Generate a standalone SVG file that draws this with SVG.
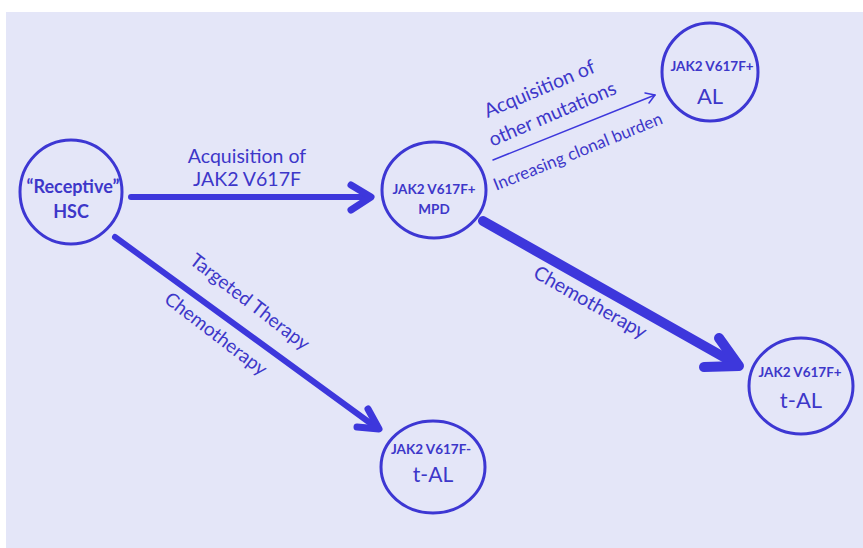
<svg xmlns="http://www.w3.org/2000/svg" width="863" height="548" viewBox="0 0 863 548">
<style>
.node{fill:none;stroke:#3d37d3;stroke-width:3}
.lbl{fill:#3d37c9;font-family:Lato,"Liberation Sans",sans-serif}
.b{font-weight:bold}
.ln{stroke:#3d37dc;fill:none;stroke-linecap:round;stroke-linejoin:round}
</style>
<rect x="0" y="0" width="863" height="548" fill="#ffffff"/>
<rect x="6" y="12" width="857" height="536" fill="#e4e6f8"/>
<g id="connectors">
  <g id="e1">
    <line class="ln" x1="131" y1="197" x2="370" y2="197" stroke-width="6" stroke-linecap="butt"/>
    <polyline class="ln" points="351,185 371,197 351,210" stroke-width="7"/>
    <text class="lbl" x="247" y="163" font-size="19.5" text-anchor="middle">Acquisition of</text>
    <text class="lbl" x="247" y="186" font-size="19.5" text-anchor="middle">JAK2 V617F</text>
  </g>
  <g id="e2">
    <line class="ln" x1="115" y1="237" x2="377" y2="428" stroke-width="6" stroke-linecap="butt"/>
    <polyline class="ln" points="368,409 379,429 357,427" stroke-width="7"/>
    <text class="lbl" font-size="19" text-anchor="middle" transform="translate(246,307) rotate(37.5)">Targeted Therapy</text>
    <text class="lbl" font-size="19" text-anchor="middle" transform="translate(212,339) rotate(37.5)">Chemotherapy</text>
  </g>
  <g id="e3">
    <line class="ln" x1="483" y1="221" x2="736" y2="364" stroke-width="10" stroke-linecap="butt"/>
    <polyline class="ln" points="719,338 739,366 704,367" stroke-width="10"/>
    <text class="lbl" font-size="19.5" text-anchor="middle" transform="translate(587,308) rotate(29.5)">Chemotherapy</text>
  </g>
  <g id="e4">
    <line class="ln" x1="493" y1="160" x2="655" y2="95" stroke-width="1.5"/>
    <polyline class="ln" points="645,93 655,95 649,103" stroke-width="1.5"/>
    <text class="lbl" font-size="19.5" text-anchor="middle" transform="translate(542,95) rotate(-23)">Acquisition of</text>
    <text class="lbl" font-size="19.5" text-anchor="middle" transform="translate(555,120) rotate(-23)">other mutations</text>
    <text class="lbl" font-size="17" text-anchor="middle" transform="translate(580,157) rotate(-22)">Increasing clonal burden</text>
  </g>
</g>
<g id="hsc">
  <ellipse class="node" cx="71" cy="192" rx="51" ry="52"/>
  <text class="lbl b" x="73" y="193" font-size="18" text-anchor="middle">“Receptive”</text>
  <text class="lbl b" x="71" y="218" font-size="18" text-anchor="middle">HSC</text>
</g>
<g id="mpd">
  <ellipse class="node" cx="434" cy="190" rx="52" ry="48"/>
  <text class="lbl b" x="434" y="194" font-size="13.5" text-anchor="middle">JAK2 V617F+</text>
  <text class="lbl b" x="434" y="214" font-size="13.5" text-anchor="middle">MPD</text>
</g>
<g id="al">
  <ellipse class="node" cx="710" cy="72" rx="48" ry="49"/>
  <text class="lbl b" x="712" y="71" font-size="13.5" text-anchor="middle">JAK2 V617F+</text>
  <text class="lbl" x="710" y="104" font-size="22" text-anchor="middle">AL</text>
</g>
<g id="tal-pos">
  <ellipse class="node" cx="801" cy="386" rx="52" ry="48"/>
  <text class="lbl b" x="800" y="377" font-size="13.5" text-anchor="middle">JAK2 V617F+</text>
  <text class="lbl" x="801" y="408" font-size="22" text-anchor="middle">t-AL</text>
</g>
<g id="tal-neg">
  <ellipse class="node" cx="433" cy="467" rx="52" ry="46"/>
  <text class="lbl b" x="431" y="454" font-size="13.5" text-anchor="middle">JAK2 V617F-</text>
  <text class="lbl" x="433" y="482" font-size="21" text-anchor="middle">t-AL</text>
</g>
</svg>
